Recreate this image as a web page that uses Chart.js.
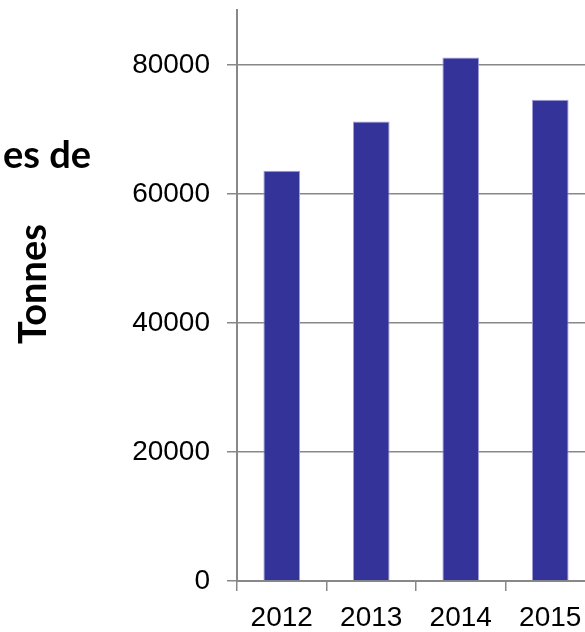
<!DOCTYPE html>
<html>
<head>
<meta charset="utf-8">
<script src="https://cdn.jsdelivr.net/npm/chart.js@4"></script>
<style>
  html, body { margin: 0; padding: 0; background: #fff; overflow: hidden; }
  #wrap { position: relative; width: 585px; height: 632px; overflow: hidden; }
  #box { position: absolute; left: 0; top: 0; width: 595px; height: 632px; }
  .lbl { position: absolute; font-family: Lato, "Open Sans", sans-serif; font-weight: bold; font-size: 38px; line-height: 38px; color: #000; white-space: nowrap; }
  #t1 { left: 0; top: 134px; width: 91px; text-align: right; overflow: visible; }
  #t2 { left: 31px; top: 284px; transform: translate(-50%, -50%) rotate(-90deg); }
</style>
</head>
<body>
<div id="wrap">
  <div id="box"><canvas id="c" width="595" height="632"></canvas></div>
  <div class="lbl" id="t1">es de</div>
  <div class="lbl" id="t2">Tonnes</div>
</div>
<script>
const categories = ["2012", "2013", "2014", "2015"];
const tonnes = [63600, 71200, 81150, 74600];
const yTicks = [0, 20000, 40000, 60000, 80000];

new Chart(document.getElementById('c'), {
  type: 'bar',
  data: {
    labels: categories,
    datasets: [{
      data: tonnes,
      backgroundColor: '#333399',
      borderColor: '#a0a0d8',
      borderWidth: 1,
      categoryPercentage: 1,
      barPercentage: 0.41
    }]
  },
  options: {
    responsive: false,
    maintainAspectRatio: false,
    animation: false,
    devicePixelRatio: 1,
    layout: { padding: { top: 10, right: 0, bottom: 0, left: 0 } },
    plugins: { legend: { display: false }, tooltip: { enabled: false } },
    scales: {
      x: {
        offset: true,
        afterFit: (axis) => { axis.height = 51; axis.paddingLeft = 0; axis.paddingRight = 0; },
        grid: { offset: true, drawOnChartArea: false, drawTicks: true, tickLength: 10, color: '#888888', lineWidth: 1.5 },
        border: { display: true, color: '#888888', width: 2 },
        ticks: { color: '#000', font: { family: '"Liberation Sans", Arial, sans-serif', size: 28 }, padding: 10, maxRotation: 0, autoSkip: false }
      },
      y: {
        min: 0,
        max: 88500,
        afterBuildTicks: (axis) => { axis.ticks = yTicks.map(v => ({ value: v })); },
        afterFit: (axis) => { axis.width = 237; axis.paddingTop = 0; axis.paddingBottom = 0; },
        grid: { color: '#888888', lineWidth: 1.5, tickLength: 10, drawTicks: true },
        border: { display: true, color: '#888888', width: 2 },
        ticks: { color: '#000', font: { family: '"Liberation Sans", Arial, sans-serif', size: 28 }, padding: 17, callback: (v) => String(v) }
      }
    }
  }
});
</script>
</body>
</html>
